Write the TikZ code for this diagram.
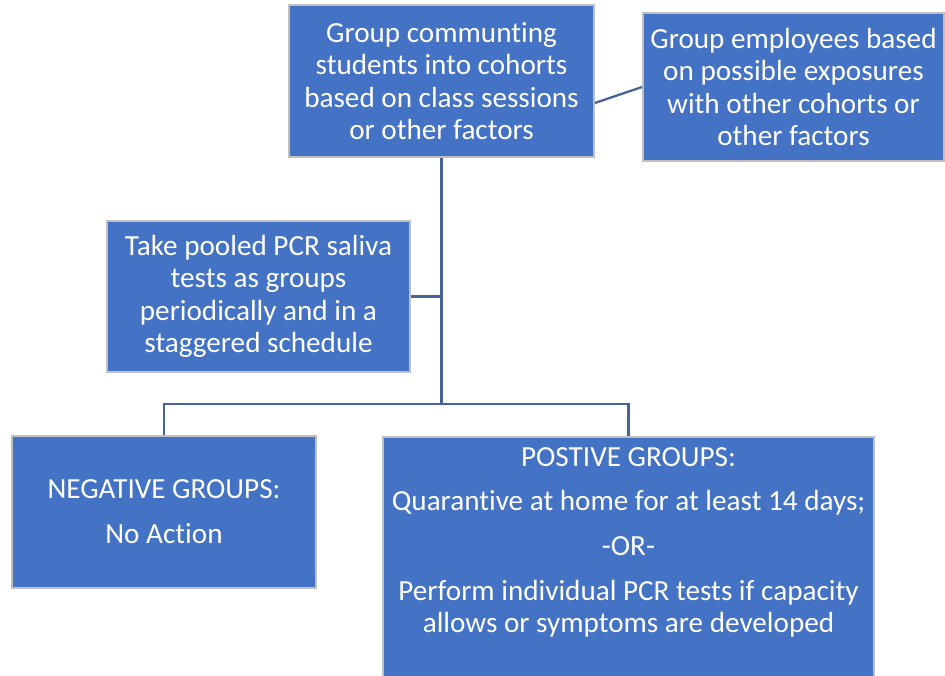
\documentclass[tikz,border=0pt]{standalone}
\usepackage{fontspec}
\setmainfont{Carlito}[Ligatures=NoCommon]
\usepackage{tikz}

\definecolor{boxblue}{HTML}{4472C4}
\definecolor{boxedge}{HTML}{BFBFBF}
\definecolor{linkblue}{RGB}{72,98,155}

\begin{document}
\begin{tikzpicture}[every node/.style={font=\fontsize{16.6}{18.4}\selectfont},
    box/.style={draw=boxedge, line width=1pt, fill=boxblue, text=white, align=center, inner sep=2pt},
    link/.style={draw=linkblue, line width=1.3pt}]

    \useasboundingbox (0, 0) rectangle (18.9, 13.52);

    \node [box, minimum width=6.1cm, minimum height=3.04cm] (cohorts) at (8.83, 11.9)
      {Group communting\\students into cohorts\\based on class sessions\\or other factors};
    \node [box, minimum width=6.02cm, minimum height=2.96cm] (employees) at (15.87, 11.78)
      {Group employees based\\on possible exposures\\with other cohorts or\\other factors};
    \node [box, minimum width=6.06cm, minimum height=3.02cm] (pooled) at (5.17, 7.59)
      {Take pooled PCR saliva\\tests as groups\\periodically and in a\\staggered schedule};

    \node [box, minimum width=6.08cm, minimum height=3.04cm] (negative) at (3.28, 3.28)
      {NEGATIVE GROUPS:\\[0.25cm]No Action};
    \node [box, minimum width=9.82cm, anchor=north, text height=3.85cm, text depth=1.3cm] (positive) at (12.57, 4.8)
      {POSTIVE GROUPS:\\[0.25cm]Quarantive at home for at least 14 days;\\[0.25cm]-OR-\\[0.25cm]Perform individual PCR tests if capacity\\allows or symptoms are developed};

    \coordinate (split) at (8.83, 5.44);

    \draw [link] ([yshift=-0.44cm]cohorts.east) to (employees.west);
    \draw [link] (cohorts.south) to (split);
    \draw [link] (pooled.east) to (pooled.east -| split);

    \draw [link] (negative.north) |- (split) -| (positive.north);

  \end{tikzpicture}
\end{document}
